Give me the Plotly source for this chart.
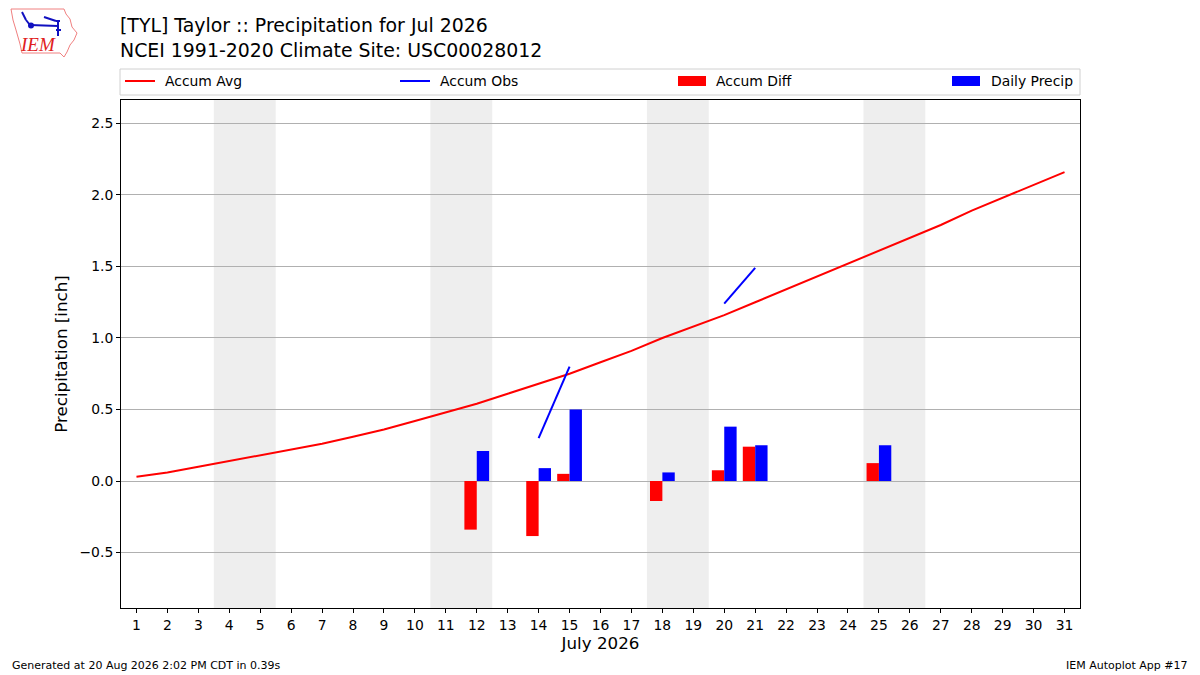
import plotly.graph_objects as go

days = list(range(1, 32))
accum_avg = [0.03, 0.06, 0.10, 0.14, 0.18, 0.22, 0.26, 0.31, 0.36, 0.42,
             0.48, 0.54, 0.61, 0.68, 0.75, 0.83, 0.91, 1.00, 1.08, 1.16,
             1.25, 1.34, 1.43, 1.52, 1.61, 1.70, 1.79, 1.89, 1.98, 2.07, 2.16]
obs_days = [12, 14, 15, 18, 20, 21, 25]
daily_precip = [0.21, 0.09, 0.50, 0.06, 0.38, 0.25, 0.25]
accum_obs = [0.21, 0.30, 0.80, 0.86, 1.24, 1.49, 1.74]
accum_diff = [-0.34, -0.385, 0.05, -0.14, 0.075, 0.24, 0.125]
weekend_spans = [(3.5, 5.5), (10.5, 12.5), (17.5, 19.5), (24.5, 26.5)]

title_lines = ["[TYL] Taylor :: Precipitation for Jul 2026",
               "NCEI 1991-2020 Climate Site: USC00028012"]
legend_names = ["Accum Avg", "Accum Obs", "Accum Diff", "Daily Precip"]

FONT = "DejaVu Sans"
W, H = 1200, 675
L, R, T, B = 121, 1080, 100, 608


def px(x):
    return (x - L) / (R - L)


def py(y):
    return (B - y) / (B - T)


# accumulated obs with gaps for missing days
obs_full = [None] * len(days)
for d, v in zip(obs_days, accum_obs):
    obs_full[d - 1] = v

fig = go.Figure()
fig.add_trace(go.Scatter(x=days, y=accum_avg, mode="lines", name=legend_names[0],
                         line=dict(color="red", width=2)))
fig.add_trace(go.Scatter(x=days, y=obs_full, mode="lines", name=legend_names[1],
                         connectgaps=False, line=dict(color="blue", width=2)))
fig.add_trace(go.Bar(x=obs_days, y=accum_diff, name=legend_names[2], width=0.4,
                     offset=-0.4, marker=dict(color="red", line=dict(width=0))))
fig.add_trace(go.Bar(x=obs_days, y=daily_precip, name=legend_names[3], width=0.4,
                     offset=0.0, marker=dict(color="blue", line=dict(width=0))))

shapes = []
for a, b in weekend_spans:
    shapes.append(dict(type="rect", xref="x", yref="paper", x0=a, x1=b, y0=0, y1=1,
                       fillcolor="#eeeeee", line=dict(width=0), layer="below"))

# hand-drawn legend (frame, symbols, labels)
shapes.append(dict(type="rect", xref="paper", yref="paper", x0=px(120), x1=px(1080),
                   y0=py(95), y1=py(69), line=dict(color="#d0d0d0", width=1),
                   fillcolor="rgba(255,255,255,0)"))
legend_items = [  # (kind, color, symbol x0, symbol x1, text x)
    ("line", "red", 125, 155, 163),
    ("line", "blue", 400, 430, 438),
    ("patch", "red", 678, 706, 714),
    ("patch", "blue", 952, 980, 989),
]
annotations = []
for (kind, color, x0, x1, tx), name in zip(legend_items, legend_names):
    if kind == "line":
        shapes.append(dict(type="line", xref="paper", yref="paper", x0=px(x0), x1=px(x1),
                           y0=py(81), y1=py(81), line=dict(color=color, width=2)))
    else:
        shapes.append(dict(type="rect", xref="paper", yref="paper", x0=px(x0), x1=px(x1),
                           y0=py(86), y1=py(76), fillcolor=color, line=dict(width=0)))
    annotations.append(dict(text=name, xref="paper", yref="paper", x=px(tx), y=py(81),
                            xanchor="left", yanchor="middle", showarrow=False,
                            font=dict(family=FONT, size=13.9, color="black")))

# logo: Iowa-like outline
outline = [(11, 9), (64, 9), (66, 14), (70, 19), (72, 27), (77, 33), (74, 40),
           (70, 45), (67, 52), (64, 57), (60, 53), (22, 53), (20, 44), (16, 30),
           (13, 20), (11, 9)]
path = "M " + " L ".join(f"{px(x)},{py(y)}" for x, y in outline) + " Z"
shapes.append(dict(type="path", xref="paper", yref="paper", path=path,
                   line=dict(color="#f08080", width=1)))
blue_segs = [((22, 12), (26, 20)), ((26, 20), (30, 25)), ((30, 25), (58, 26)),
             ((44, 17), (56, 21)), ((56, 21), (60, 21)), ((58, 21), (58, 36)),
             ((56, 30), (61, 30))]
for (x0, y0), (x1, y1) in blue_segs:
    shapes.append(dict(type="line", xref="paper", yref="paper", x0=px(x0), y0=py(y0),
                       x1=px(x1), y1=py(y1), line=dict(color="#1010c0", width=2)))
shapes.append(dict(type="circle", xref="paper", yref="paper", x0=px(28), x1=px(34),
                   y0=py(28.5), y1=py(22.5), fillcolor="#1010c0", line=dict(width=0)))

annotations += [
    dict(text=title_lines[0] + "<br>" + title_lines[1], xref="paper", yref="paper",
         x=px(118), y=py(12), xanchor="left", yanchor="top", showarrow=False,
         align="left", font=dict(family=FONT, size=18.9, color="black")),
    dict(text="<i>IEM</i>", xref="paper", yref="paper", x=px(38), y=py(45),
         xanchor="center", yanchor="middle", showarrow=False,
         font=dict(family="Liberation Serif", size=19, color="#e02020")),
    dict(text="Generated at 20 Aug 2026 2:02 PM CDT in 0.39s", xref="paper",
         yref="paper", x=px(10), y=py(665), xanchor="left", yanchor="middle",
         showarrow=False, font=dict(family=FONT, size=11, color="black")),
    dict(text="IEM Autoplot App #17", xref="paper", yref="paper", x=px(1190),
         y=py(665), xanchor="right", yanchor="middle", showarrow=False,
         font=dict(family=FONT, size=11, color="black")),
]

fig.update_layout(
    width=W, height=H,
    margin=dict(l=L, r=W - R, t=T, b=H - B, pad=0),
    paper_bgcolor="white", plot_bgcolor="white",
    font=dict(family=FONT, size=13.9, color="black"),
    barmode="overlay",
    showlegend=False,
    shapes=shapes,
    annotations=annotations,
    xaxis=dict(range=[0.5, 31.5], tickmode="array", tickvals=days,
               ticktext=[str(d) for d in days], showgrid=False, zeroline=False,
               showline=True, linecolor="black", linewidth=1, mirror=True,
               ticks="outside", ticklen=4, tickcolor="black",
               title=dict(text="July 2026", font=dict(family=FONT, size=16.7), standoff=5)),
    yaxis=dict(range=[-0.888, 2.664], tickmode="array",
               tickvals=[-0.5, 0.0, 0.5, 1.0, 1.5, 2.0, 2.5],
               ticktext=["\u22120.5", "0.0", "0.5", "1.0", "1.5", "2.0", "2.5"],
               showgrid=True, gridcolor="#b0b0b0", gridwidth=1, zeroline=False,
               showline=True, linecolor="black", linewidth=1, mirror=True,
               ticks="outside", ticklen=4, tickcolor="black",
               title=dict(text="Precipitation [inch]", font=dict(family=FONT, size=16.7),
                          standoff=7)),
)

fig.write_html("out.html", config={"displayModeBar": False},
               post_script="document.body.style.margin='0';")
